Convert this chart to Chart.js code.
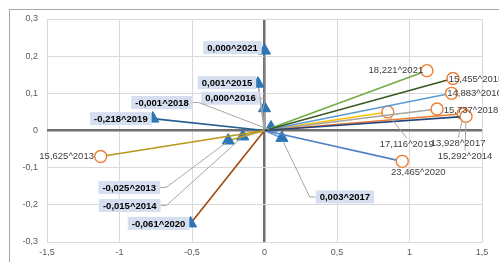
<!DOCTYPE html>
<html>
<head>
<meta charset="utf-8">
<script src="https://cdn.jsdelivr.net/npm/chart.js@4.4.1/dist/chart.umd.min.js"></script>
<style>
    html, body { margin: 0; padding: 0; background: #fff; }
    #wrap { position: relative; width: 499px; height: 262px; overflow: hidden; }
    #frame { position: absolute; left: 9px; top: 9px; right: -2px; bottom: -2px; border-top: 1px solid #a6a6a6; border-left: 1px solid #a6a6a6; }
    #chart { position: absolute; left: 0; top: 0; }
</style>
</head>
<body>
<div id="wrap">
    <div id="frame"></div>
    <canvas id="chart" width="499" height="262"></canvas>
</div>
<script>
// Jaren (categorieën)
const years = ['2013', '2014', '2015', '2016', '2017', '2018', '2019', '2020', '2021'];

// Driehoekjes (blauw): waarde in het label en positie
const triValues = [-0.025, -0.015, 0.001, 0.000, 0.003, -0.001, -0.218, -0.061, 0.000];
const triX = [-0.25, -0.15, -0.045, 0.0, 0.12, 0.045, -0.77, -0.51, 0.0];
const triY = [-0.027, -0.016, 0.126, 0.06, -0.02, 0.008, 0.032, -0.25, 0.215];

// Cirkels (oranje): waarde in het label en positie
const circValues = [15.625, 15.292, 15.455, 14.883, 13.928, 15.737, 17.116, 23.465, 18.221];
const circX = [-1.13, 1.39, 1.30, 1.29, 1.37, 1.19, 0.85, 0.95, 1.12];
const circY = [-0.07, 0.038, 0.14, 0.10, 0.045, 0.058, 0.05, -0.083, 0.161];

// Astikken
const xTicks = [-1.5, -1, -0.5, 0, 0.5, 1, 1.5];
const yTicks = [-0.3, -0.2, -0.1, 0, 0.1, 0.2, 0.3];

// Lijnkleuren per jaar
const circLineColors = ['#b8961a', '#264478', '#3a5a22', '#5b9bd5', '#ed7d31', '#a5a5a5', '#ffc000', '#4f81c4', '#70ad47'];
const triLineColors = ['#c9a227', '#9e9e9e', '#a5a5a5', '#a5a5a5', '#5b9bd5', '#636363', '#255e91', '#9e480e', '#7f7f7f'];

// Label-verschuivingen in pixels [dx, dy, leader]
const triLabelPos = [[-99, 47, 'r'], [-113, 69, 'r'], [-31, -1, ''], [-34, -10, 'r'], [63, 59, 'l'], [-109, -25, 'r'], [-32, 0, ''], [-32, 0, ''], [-32, -3, '']];
const circLabelPos = [[-34, 0, ''], [-1, 40, 't'], [23, 1, ''], [23, 0, ''], [-5, 30, 't'], [34, 1, ''], [19, 32, 't'], [16, 11, ''], [-31, 0, '']];

const fmt = v => v.toFixed(3).replace('.', ',');
const fmtTick = v => (Math.round(v * 10) / 10).toString().replace('.', ',');

const datasets = [];
years.forEach((yr, i) => {
    datasets.push({
        label: 'c' + yr,
        data: [{ x: 0, y: 0 }, { x: circX[i], y: circY[i] }],
        showLine: true,
        borderColor: circLineColors[i],
        borderWidth: 1.6,
        pointStyle: 'circle',
        pointRadius: [0, 6],
        pointBackgroundColor: '#ffffff',
        pointBorderColor: '#ed7d31',
        pointBorderWidth: 1.4
    });
});
years.forEach((yr, i) => {
    datasets.push({
        label: 't' + yr,
        data: [{ x: 0, y: 0 }, { x: triX[i], y: triY[i] }],
        showLine: true,
        borderColor: triLineColors[i],
        borderWidth: 1.6,
        pointStyle: 'triangle',
        pointRadius: [0, 7],
        pointBackgroundColor: '#2e75b6',
        pointBorderColor: '#2e75b6',
        pointBorderWidth: 1
    });
});

// Eigen plugin voor de datalabels met kaders en verbindingslijnen
const labelPlugin = {
    id: 'labels',
    afterDatasetsDraw(chart) {
        const ctx = chart.ctx;
        const xs = chart.scales.x, ys = chart.scales.y;
        ctx.save();
        ctx.textBaseline = 'middle';
        ctx.textAlign = 'center';

        const leader = (pts) => {
            ctx.strokeStyle = '#a6a6a6';
            ctx.lineWidth = 1;
            ctx.beginPath();
            ctx.moveTo(pts[0][0], pts[0][1]);
            for (let k = 1; k < pts.length; k++) ctx.lineTo(pts[k][0], pts[k][1]);
            ctx.stroke();
        };

        // Driehoeklabels
        ctx.font = 'bold 9.5px "Liberation Sans", Arial, sans-serif';
        years.forEach((yr, i) => {
            const px = xs.getPixelForValue(triX[i]);
            const py = ys.getPixelForValue(triY[i]);
            const [dx, dy, ld] = triLabelPos[i];
            const cx = px + dx, cy = py + dy;
            const text = fmt(triValues[i]) + '^' + yr;
            const w = ctx.measureText(text).width + 8;
            const h = 13;
            if (ld === 'r') leader([[cx + w / 2, cy], [cx + w / 2 + 6, cy], [px - 2, py + 2]]);
            if (ld === 'l') leader([[cx - w / 2, cy], [cx - w / 2 - 6, cy], [px + 1, py + 3]]);
            ctx.fillStyle = '#d6dff0';
            ctx.fillRect(cx - w / 2, cy - h / 2, w, h);
            ctx.fillStyle = '#000000';
            ctx.fillText(text, cx, cy + 0.5);
        });

        // Cirkellabels
        ctx.font = '9.5px "Liberation Sans", Arial, sans-serif';
        years.forEach((yr, i) => {
            const px = xs.getPixelForValue(circX[i]);
            const py = ys.getPixelForValue(circY[i]);
            const [dx, dy, ld] = circLabelPos[i];
            const cx = px + dx, cy = py + dy;
            const text = fmt(circValues[i]) + '^' + yr;
            if (ld === 't') leader([[px + (cx - px) * 0.15, py + 6], [cx, cy - 6]]);
            ctx.fillStyle = '#404040';
            ctx.fillText(text, cx, cy);
        });
        ctx.restore();
    }
};

new Chart(document.getElementById('chart'), {
    type: 'scatter',
    data: { datasets: datasets },
    options: {
        responsive: false,
        animation: false,
        layout: { padding: { top: 19, right: 17, left: 0, bottom: 0 } },
        plugins: { legend: { display: false }, tooltip: { enabled: false } },
        scales: {
            x: {
                min: -1.5,
                max: 1.5,
                afterFit: s => { s.height = 20; },
                afterBuildTicks: s => { s.ticks = xTicks.map(v => ({ value: v })); },
                ticks: {
                    padding: 5,
                    color: '#595959',
                    font: { family: '"Liberation Sans", Arial, sans-serif', size: 9 },
                    callback: v => fmtTick(v)
                },
                border: { display: false },
                grid: {
                    drawTicks: false,
                    color: c => (c.tick && c.tick.value === 0) ? '#6f6f6f' : '#d9d9d9',
                    lineWidth: c => (c.tick && c.tick.value === 0) ? 2.5 : 1
                }
            },
            y: {
                min: -0.3,
                max: 0.3,
                afterFit: s => { s.width = 47; },
                afterBuildTicks: s => { s.ticks = yTicks.map(v => ({ value: v })); },
                ticks: {
                    padding: 9,
                    color: '#595959',
                    font: { family: '"Liberation Sans", Arial, sans-serif', size: 9 },
                    callback: v => fmtTick(v)
                },
                border: { display: false },
                grid: {
                    drawTicks: false,
                    color: c => (c.tick && c.tick.value === 0) ? '#6f6f6f' : '#d9d9d9',
                    lineWidth: c => (c.tick && c.tick.value === 0) ? 2.5 : 1
                }
            }
        }
    },
    plugins: [labelPlugin]
});
</script>
</body>
</html>
